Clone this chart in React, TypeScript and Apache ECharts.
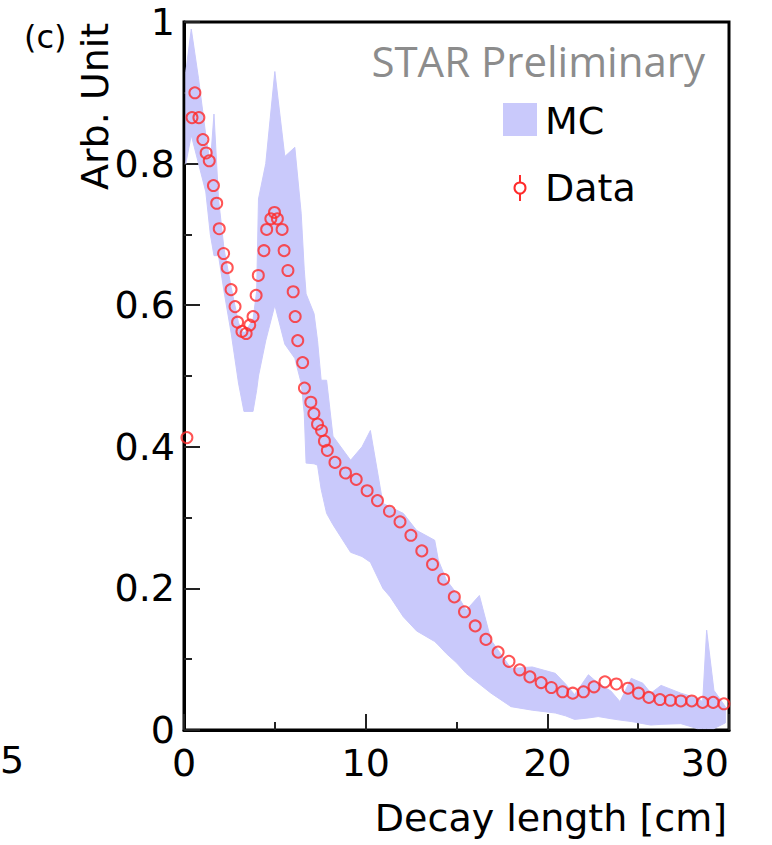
import React, { useEffect, useRef } from "react";
import * as echarts from "echarts";

// Data points (decay length [cm], normalized value)
const dataX = [0.16, 0.44, 0.60, 0.82, 1.04, 1.22, 1.39, 1.62, 1.80, 1.94, 2.18, 2.38, 2.59, 2.81, 2.95, 3.19, 3.42, 3.62, 3.80, 3.97, 4.09, 4.40, 4.55, 4.78, 4.98, 5.14, 5.40, 5.51, 5.72, 6.01, 6.12, 6.26, 6.53, 6.63, 6.98, 7.15, 7.35, 7.57, 7.73, 7.89, 8.31, 8.89, 9.48, 10.08, 10.65, 11.31, 11.89, 12.49, 13.09, 13.68, 14.29, 14.88, 15.44, 16.03, 16.62, 17.29, 17.89, 18.48, 19.04, 19.66, 20.22, 20.84, 21.40, 21.99, 22.57, 23.17, 23.80, 24.44, 25.02, 25.59, 26.20, 26.77, 27.35, 27.95, 28.55, 29.13, 29.72];
const dataY = [0.413, 0.865, 0.900, 0.865, 0.834, 0.815, 0.804, 0.769, 0.744, 0.708, 0.673, 0.653, 0.622, 0.598, 0.576, 0.563, 0.560, 0.572, 0.584, 0.614, 0.642, 0.677, 0.707, 0.722, 0.731, 0.722, 0.707, 0.677, 0.649, 0.619, 0.584, 0.550, 0.519, 0.483, 0.463, 0.447, 0.432, 0.423, 0.408, 0.395, 0.378, 0.363, 0.354, 0.338, 0.324, 0.309, 0.294, 0.275, 0.253, 0.234, 0.213, 0.188, 0.167, 0.147, 0.128, 0.110, 0.097, 0.085, 0.075, 0.067, 0.060, 0.054, 0.052, 0.054, 0.061, 0.068, 0.065, 0.059, 0.052, 0.046, 0.043, 0.042, 0.041, 0.041, 0.039, 0.039, 0.037];

// MC band (x, lower edge, upper edge)
const bandX = [0.1, 0.4, 0.8, 1.2, 1.45, 1.65, 1.9, 2.2, 2.6, 3.0, 3.3, 3.8, 4.0, 4.1, 4.5, 5.0, 5.55, 6.1, 6.45, 6.62, 6.72, 7.16, 7.35, 7.55, 7.85, 8.2, 9.17, 9.8, 10.26, 10.95, 11.35, 12.07, 12.8, 13.8, 14.0, 14.44, 15.0, 15.53, 16.26, 16.9, 18.0, 19.17, 20.44, 21.0, 21.5, 22.26, 22.8, 23.5, 24.0, 24.62, 25.26, 25.7, 26.26, 27.35, 28.26, 28.55, 28.77, 29.17, 29.8];
const bandLow = [0.80, 0.84, 0.80, 0.76, 0.70, 0.67, 0.67, 0.62, 0.56, 0.49, 0.45, 0.45, 0.48, 0.50, 0.55, 0.60, 0.545, 0.525, 0.49, 0.447, 0.377, 0.376, 0.374, 0.34, 0.306, 0.29, 0.251, 0.245, 0.237, 0.20, 0.188, 0.16, 0.14, 0.125, 0.12, 0.108, 0.095, 0.08, 0.065, 0.052, 0.033, 0.028, 0.024, 0.02, 0.015, 0.017, 0.019, 0.016, 0.014, 0.012, 0.009, 0.007, 0.008, 0.009, 0.002, 0.002, 0.002, 0.002, 0.01];
const bandHigh = [0.93, 0.99, 0.92, 0.84, 0.80, 0.87, 0.75, 0.68, 0.625, 0.575, 0.56, 0.58, 0.62, 0.75, 0.80, 0.93, 0.81, 0.823, 0.73, 0.65, 0.616, 0.588, 0.55, 0.494, 0.494, 0.415, 0.381, 0.40, 0.423, 0.32, 0.315, 0.306, 0.282, 0.268, 0.24, 0.212, 0.193, 0.169, 0.19, 0.127, 0.087, 0.089, 0.08, 0.065, 0.05, 0.078, 0.066, 0.055, 0.04, 0.073, 0.066, 0.052, 0.063, 0.052, 0.045, 0.04, 0.141, 0.056, 0.033];

const xTicks = [0, 10, 20, 30];
const yTicks = [0, 0.2, 0.4, 0.6, 0.8, 1];

const FONT = "DejaVu Sans";
const BAND = "#c9c9fb";
const RED = "#ff2b2b";

export default function App() {
  const ref = useRef<HTMLDivElement>(null);
  useEffect(() => {
    if (!ref.current) return;
    const chart = echarts.init(ref.current, undefined, { renderer: "svg" });
    const option: any = {
      animation: false,
      backgroundColor: "#fff",
      grid: {
        left: 184,
        right: 43,
        top: 22,
        bottom: 115,
        show: true,
        borderColor: "#000",
        borderWidth: 3,
      },
      xAxis: {
        type: "value",
        min: xTicks[0],
        max: xTicks[xTicks.length - 1],
        interval: 10,
        axisLine: { show: true, lineStyle: { color: "#000", width: 3 } },
        axisTick: { show: true, inside: true, length: 16, lineStyle: { color: "#222", width: 2 } },
        minorTick: { show: true, splitNumber: 2, length: 8, lineStyle: { color: "#222", width: 2 } },
        splitLine: { show: false },
        axisLabel: { fontFamily: FONT, fontSize: 38, color: "#000", margin: 14, alignMaxLabel: "right" },
      },
      yAxis: {
        type: "value",
        min: yTicks[0],
        max: yTicks[yTicks.length - 1],
        interval: 0.2,
        axisLine: { show: true, lineStyle: { color: "#000", width: 3 } },
        axisTick: { show: true, inside: true, length: 16, lineStyle: { color: "#222", width: 2 } },
        minorTick: { show: true, splitNumber: 2, length: 8, lineStyle: { color: "#222", width: 2 } },
        splitLine: { show: false },
        axisLabel: { fontFamily: FONT, fontSize: 38, color: "#000", margin: 9 },
      },
      series: [
        {
          type: "custom",
          name: "MC",
          data: bandX.map((x, i) => [x, bandLow[i], bandHigh[i]]),
          encode: { x: 0, y: [1, 2] },
          z: 1,
          renderItem: (params: any, api: any) => {
            if (params.dataIndex !== 0) return null;
            const pts: number[][] = [];
            for (let i = 0; i < bandX.length; i++) pts.push(api.coord([bandX[i], bandHigh[i]]));
            for (let i = bandX.length - 1; i >= 0; i--) pts.push(api.coord([bandX[i], bandLow[i]]));
            return { type: "polygon", shape: { points: pts }, style: { fill: BAND, stroke: BAND, lineWidth: 1 } };
          },
        },
        {
          type: "scatter",
          name: "Data",
          data: dataX.map((x, i) => [x, dataY[i]]),
          symbol: "circle",
          symbolSize: 11,
          z: 3,
          itemStyle: { color: "rgba(255,255,255,0)", borderColor: RED, borderWidth: 2 },
        },
      ],
      graphic: [
        { type: "text", x: 24, y: 37, style: { text: "(c)", font: `32px ${FONT}`, fill: "#000", verticalAlign: "middle" } },
        { type: "text", x: 0, y: 760, style: { text: "5", font: `38px ${FONT}`, fill: "#000", verticalAlign: "middle" } },
        {
          type: "text",
          x: 76,
          y: 190,
          rotation: Math.PI / 2,
          style: { text: "Arb. Unit", font: `38px ${FONT}`, fill: "#000", align: "left", verticalAlign: "top" },
        },
        {
          type: "text",
          x: 727,
          y: 818,
          style: { text: "Decay length [cm]", font: `38px ${FONT}`, fill: "#000", align: "right", verticalAlign: "middle" },
        },
        {
          type: "text",
          x: 705,
          y: 60,
          style: { text: "STAR Preliminary", font: `42px 'Open Sans'`, fill: "#8c8c8c", align: "right", verticalAlign: "middle" },
        },
        { type: "rect", shape: { x: 503, y: 103, width: 34, height: 33 }, style: { fill: BAND } },
        {
          type: "text",
          x: 545,
          y: 121,
          style: { text: "MC", font: `38px ${FONT}`, fill: "#000", align: "left", verticalAlign: "middle" },
        },
        { type: "line", shape: { x1: 520, y1: 175, x2: 520, y2: 201 }, style: { stroke: RED, lineWidth: 2 } },
        { type: "circle", shape: { cx: 520, cy: 188, r: 5.5 }, style: { fill: "#fff", stroke: RED, lineWidth: 2 } },
        {
          type: "text",
          x: 545,
          y: 188,
          style: { text: "Data", font: `38px ${FONT}`, fill: "#000", align: "left", verticalAlign: "middle" },
        },
      ],
    };
    chart.setOption(option);
    return () => chart.dispose();
  }, []);
  return <div ref={ref} style={{ position: "fixed", left: 0, top: 0, width: 772, height: 845 }} />;
}
